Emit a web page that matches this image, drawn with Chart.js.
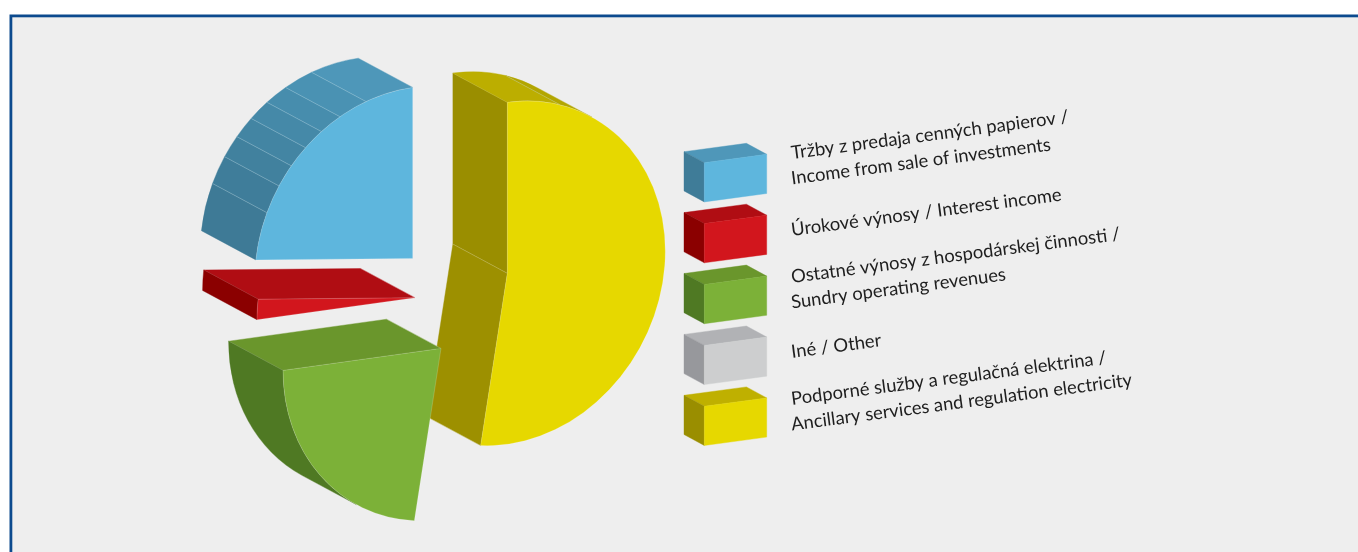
<!DOCTYPE html>
<html>
<head>
<meta charset="utf-8">
<style>html,body{margin:0;padding:0;background:#fff;overflow:hidden}canvas{display:block}</style>
<script src="https://cdn.jsdelivr.net/npm/chart.js@4"></script>
</head>
<body>
<canvas id="c" width="1358" height="552"></canvas>
<script>
// Categories in clockwise pie order, starting at 12 o'clock
const categories = [
  "Podporné služby a regulačná elektrina /\nAncillary services and regulation electricity",
  "Iné / Other",
  "Ostatné výnosy z hospodárskej činnosti /\nSundry operating revenues",
  "Úrokové výnosy / Interest income",
  "Tržby z predaja cenných papierov /\nIncome from sale of investments"
];
const shares = [52.7, 0, 22.3, 1.9, 23.1];
const frontColors = ["#e6d800", "#cdcecf", "#7cb138", "#d2161d", "#5eb6dd"];
const topColors   = ["#bfb000", "#b1b2b5", "#6a962c", "#b00d13", "#4f97b9"];
const sideColors  = ["#9a8e00", "#97989c", "#4f7923", "#8b0000", "#3f7c98"];

// Drawing layout (not data)
const R = 170;
const FACE = {a: 158, b: -22, d: 171};       // front plane projection of the unit circle
const DEPTH = {x: -54.4, y: -29.2};
const SLICE_POS = [[507.3,273.3], null, [441,348.4], [415,297.7], [412.7,258.4]];
const PAINT_ORDER = [0, 4, 3, 2];
const deg = Math.PI/180;
const WALLS = [
  {start:"#9a8e00", end:"#9d9000", curve:[[0,19.5,"#bcae00"],[19.5,32.4,"#b3a600"]]},
  null,
  {end:"#6a962c", curve:[[212.4,270,"#4f7923"]]},
  {end:"#b00d13", curve:[[270,290,"#8b0000"]]},
  {curve:[[270,292.7,"#3e7a96"],[292.7,302.2,"#3f7d9a"],[302.2,309.8,"#41819e"],[309.8,317.3,"#4385a3"],
          [317.3,324.7,"#4589a8"],[324.7,332.6,"#478dad"],[332.6,342.8,"#4a92b3"],[342.8,360,"#4e97b9"]]}
];
const SWATCH = {x:704.3, y:162.7, step:60.9, w:62.4, rise:8.4, h:39.2, dx:-20.3, dy:-11};
const TEXT = {x:792, y:[159,236,283,358,405], lead:25.5, angle:-7.5*deg,
              font:'18.4px Lato', color:"#1e1e1e"};

function pt(pos, theta, r, back){
  const c = Math.cos(theta)*r/R, s = Math.sin(theta)*r/R;
  return [pos[0] + FACE.a*c + (back?DEPTH.x:0), pos[1] + FACE.b*c + FACE.d*s + (back?DEPTH.y:0)];
}
function ellipseArc(ctx, pos, r, a0, a1, ccw, back){
  ctx.save();
  ctx.transform(FACE.a/R, FACE.b/R, 0, FACE.d/R, pos[0]+(back?DEPTH.x:0), pos[1]+(back?DEPTH.y:0));
  ctx.arc(0,0,r,a0,a1,ccw);
  ctx.restore();
}
function poly(ctx, pts, fill){
  ctx.beginPath();
  pts.forEach((p,i)=> i?ctx.lineTo(p[0],p[1]):ctx.moveTo(p[0],p[1]));
  ctx.closePath();
  ctx.fillStyle = fill; ctx.strokeStyle = fill; ctx.lineWidth = .4;
  ctx.fill(); ctx.stroke();
}
function edge(ctx, p, q, color){
  ctx.beginPath(); ctx.moveTo(p[0],p[1]); ctx.lineTo(q[0],q[1]);
  ctx.strokeStyle = color; ctx.lineWidth = .8; ctx.stroke();
}

const pie3d = {
  id:"pie3d",
  beforeDraw(chart){
    const ctx = chart.ctx;
    ctx.save();
    ctx.fillStyle = "#fff"; ctx.fillRect(0,0,1358,552);
    ctx.fillStyle = "#0c4a8e"; ctx.fillRect(9.5,14.5,1349,537.5);
    ctx.fillStyle = "#eeeeee"; ctx.fillRect(12.3,17.3,1346,535);
    ctx.restore();
  },
  beforeDatasetsDraw(chart){
    const ctx = chart.ctx, arcs = chart.getDatasetMeta(0).data;
    PAINT_ORDER.forEach(i=>{
      const arc = arcs[i], pos = SLICE_POS[i], w = WALLS[i];
      const {startAngle:s, endAngle:e, outerRadius:r, x, y} = arc.getProps(["startAngle","endAngle","outerRadius","x","y"], true);
      const V = [pos[0],pos[1]], Vb = [pos[0]+DEPTH.x,pos[1]+DEPTH.y];
      const wall = (th,col)=>{
        const a = pt(pos,th,r,false), b = pt(pos,th,r,true);
        poly(ctx,[V,a,b,Vb],col);
        edge(ctx,a,b,"rgba(255,255,255,.25)");
      };
      if (w.start) wall(s,w.start);
      if (w.end) wall(e,w.end);
      if (w.start || w.end) edge(ctx,V,Vb,"rgba(255,255,255,.25)");
      w.curve.forEach(f=>{
        const a0 = Math.max(s,(f[0]-90)*deg), a1 = Math.min(e,(f[1]-90)*deg);
        ctx.beginPath();
        ellipseArc(ctx,pos,r,a0,a1,false,false);
        ellipseArc(ctx,pos,r,a1,a0,true,true);
        ctx.closePath();
        ctx.fillStyle = f[2]; ctx.strokeStyle = f[2]; ctx.lineWidth = .4;
        ctx.fill(); ctx.stroke();
      });
      w.curve.slice(1).forEach(f=>{
        const th = (f[0]-90)*deg;
        if (th>s && th<e) edge(ctx,pt(pos,th,r,false),pt(pos,th,r,true),"rgba(205,228,238,.35)");
      });
      // front face: the library's own arc element, projected onto the front plane
      ctx.save();
      ctx.transform(FACE.a/R, FACE.b/R, 0, FACE.d/R, pos[0], pos[1]);
      ctx.translate(-x,-y);
      arc.draw(ctx);
      ctx.restore();
    });
    // Legend
    const order = categories.map((_,i)=>i).reverse();
    order.forEach((i,row)=>{
      const S = SWATCH, x0=S.x, y0=S.y+S.step*row;
      poly(ctx,[[x0,y0],[x0+S.w,y0-S.rise],[x0+S.w+S.dx,y0-S.rise+S.dy],[x0+S.dx,y0+S.dy]],topColors[i]);
      poly(ctx,[[x0,y0],[x0+S.dx,y0+S.dy],[x0+S.dx,y0+S.dy+S.h],[x0,y0+S.h]],sideColors[i]);
      poly(ctx,[[x0,y0],[x0+S.w,y0-S.rise],[x0+S.w,y0-S.rise+S.h],[x0,y0+S.h]],frontColors[i]);
      categories[i].split("\n").forEach((l,k)=>{
        ctx.save();
        ctx.font = TEXT.font; ctx.fillStyle = TEXT.color; ctx.textBaseline="alphabetic"; ctx.textAlign="left";
        ctx.translate(TEXT.x,TEXT.y[row]+k*TEXT.lead); ctx.rotate(TEXT.angle);
        ctx.fillText(l,0,0);
        ctx.restore();
      });
    });
    return false;
  }
};

new Chart(document.getElementById("c"), {
  type:"pie",
  data:{labels:categories, datasets:[{data:shares, backgroundColor:frontColors,
        borderColor:"rgba(255,255,255,.25)", borderWidth:.7}]},
  options:{responsive:false, animation:false, radius:R, rotation:0, circumference:360,
    plugins:{legend:{display:false}, tooltip:{enabled:false}, title:{display:false}}},
  plugins:[pie3d]
});
</script>
</body>
</html>
